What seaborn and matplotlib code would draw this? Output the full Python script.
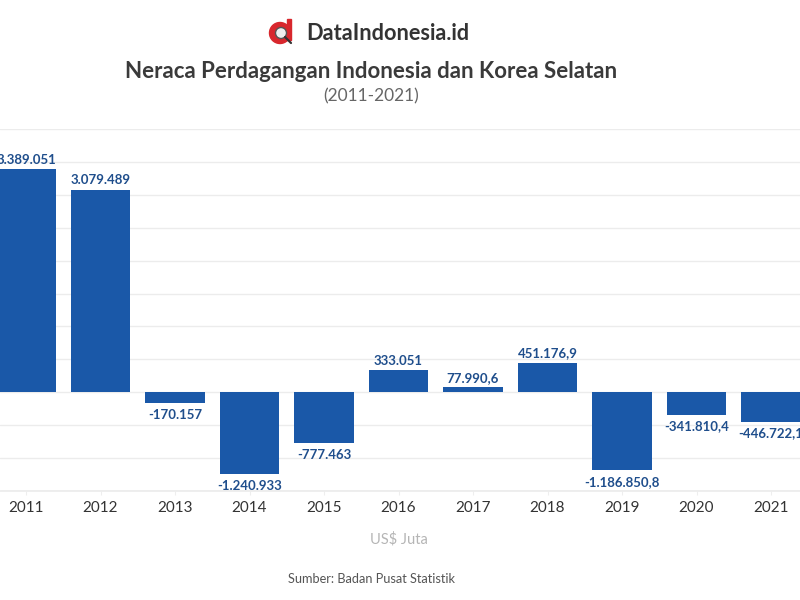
import matplotlib
matplotlib.use("Agg")
import matplotlib.pyplot as plt
from matplotlib.patches import Circle, Rectangle
from matplotlib.lines import Line2D
import seaborn as sns
import pandas as pd

years = ["2011", "2012", "2013", "2014", "2015", "2016", "2017", "2018", "2019", "2020", "2021"]
values = [3389051, 3079489, -170157, -1240933, -777463, 333051, 77990.6, 451176.9, -1186850.8, -341810.4, -446722.1]
labels = ["3.389.051", "3.079.489", "-170.157", "-1.240.933", "-777.463", "333.051",
          "77.990,6", "451.176,9", "-1.186.850,8", "-341.810,4", "-446.722,1"]
y_grid = [-1500000, -1000000, -500000, 0, 500000, 1000000, 1500000, 2000000, 2500000, 3000000, 3500000, 4000000]

sns.set_theme(style="white")
FONT = ["Lato", "Open Sans", "DejaVu Sans"]
plt.rcParams["font.family"] = FONT

W, H = 800, 600
fig = plt.figure(figsize=(8, 6), dpi=100, facecolor="white")
ax = fig.add_axes([0, 1 - 491 / H, 1, (491 - 129) / H])
df = pd.DataFrame({"year": years, "value": values})
sns.barplot(data=df, x="year", y="value", color="#1a58a8", saturation=1, width=0.8, linewidth=0, ax=ax, zorder=3)

ax.set_xlim(-26 / 74.5, (800 - 26) / 74.5)
ax.set_ylim(-1500000, 4000000)
ax.set_yticks(y_grid)
ax.grid(axis="y", color="#ececec", lw=1, zorder=0)
ax.set_axisbelow(True)
ax.tick_params(axis="y", left=False, labelleft=False)
ax.tick_params(axis="x", bottom=True, length=3, width=0.8, color="#eeeeee", pad=4.5, labelsize=11, labelcolor="#333333")
ax.set_xlabel("")
ax.set_ylabel("")
for s in ax.spines.values():
    s.set_visible(False)
ax.spines["bottom"].set_visible(True)
ax.spines["bottom"].set_color("#ececec")

for i, (v, t) in enumerate(zip(values, labels)):
    off = 2.5 if v >= 0 else -4
    ax.annotate(t, (i, v), xytext=(0, off), textcoords="offset points", ha="center",
                va="bottom" if v >= 0 else "top", fontsize=9.5, fontweight="bold", color="#1f4e8c",
                zorder=4, clip_on=False)

def fx(px): return px / W
def fy(py): return 1 - py / H

fig.text(fx(306), fy(33), "DataIndonesia.id", fontsize=15.7, fontweight="bold", color="#333333", ha="left", va="center")
fig.text(fx(371), fy(71), "Neraca Perdagangan Indonesia dan Korea Selatan", fontsize=16, fontweight="bold", color="#3a3a3a", ha="center", va="center")
fig.text(fx(371), fy(96), "(2011-2021)", fontsize=12.5, color="#666666", ha="center", va="center")
fig.text(fx(399), fy(539), "US$ Juta", fontsize=10.5, color="#b5b5b5", ha="center", va="center")
fig.text(fx(371), fy(579), "Sumber: Badan Pusat Statistik", fontsize=9.2, color="#555555", ha="center", va="center")

# logo
logo = fig.add_axes([fx(266), fy(48), 30 / W, 30 / H])
logo.set_xlim(266, 296)
logo.set_ylim(48, 18)
logo.set_aspect("equal")
logo.axis("off")
logo.add_patch(Rectangle((287, 18.5), 4, 22, color="#d8272d"))
logo.add_patch(Circle((280, 33), 10.5, color="#d8272d"))
logo.add_patch(Circle((281, 33), 5.5, color="#eeeeee", ec="#555555", lw=1))
logo.add_line(Line2D([285, 291], [37, 43], color="#333333", lw=1.6))
fig.savefig("out.png", dpi=100, facecolor="white")
